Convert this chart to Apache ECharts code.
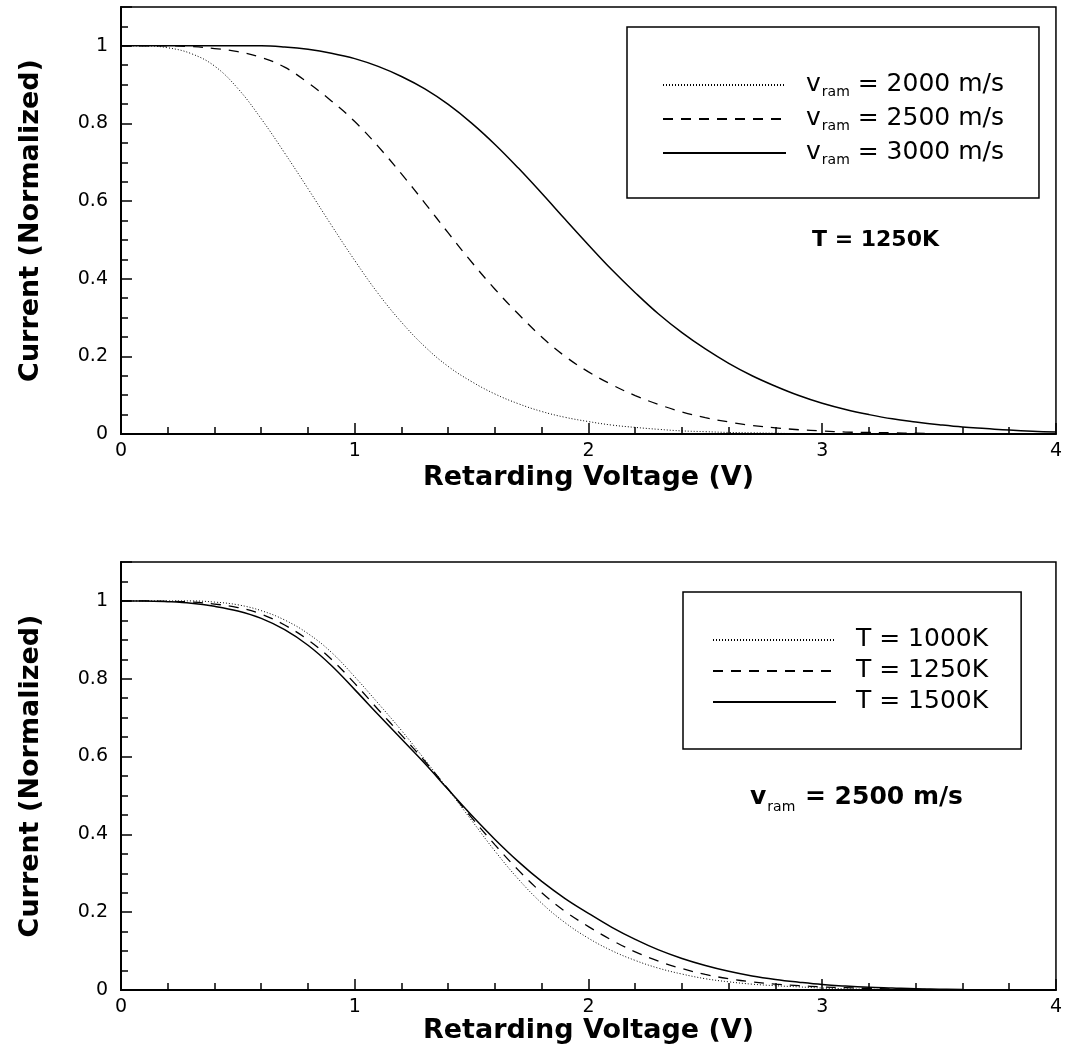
<!DOCTYPE html>
<html>
<head>
<meta charset="utf-8">
<script src="https://cdn.jsdelivr.net/npm/echarts@6/dist/echarts.min.js"></script>
<style>
html,body{margin:0;padding:0;background:#fff}
#main{width:1065px;height:1050px}
</style>
</head>
<body>
<div id="main"></div>
<script>
// retarding voltage (V)
var volts = [0,0.1,0.2,0.3,0.4,0.5,0.6,0.7,0.8,0.9,1.0,1.1,1.2,1.3,1.4,1.5,1.6,1.7,1.8,1.9,
  2.0,2.1,2.2,2.3,2.4,2.5,2.6,2.7,2.8,2.9,3.0,3.1,3.2,3.3,3.4,3.5,3.6,3.7,3.8,3.9,4.0]

// top panel, T = 1250K
var speeds = ['2000','2500','3000']
var vram2000 = [1,1,0.995,0.98,0.948,0.89,0.812,0.724,0.632,0.538,0.447,0.362,0.288,0.225,0.174,0.135,0.103,0.078,0.058,0.043,
  0.032,0.023,0.017,0.012,0.008,0.006,0.004,0.003,0.002,0.001,0.001,0,0,0,0,0,0,0,0,0,0]
var vram2500 = [1,1,1,0.998,0.993,0.985,0.97,0.945,0.905,0.858,0.805,0.741,0.67,0.595,0.518,0.443,0.373,0.309,0.25,0.2,
  0.16,0.127,0.099,0.076,0.057,0.042,0.031,0.022,0.016,0.011,0.008,0.005,0.004,0.003,0.002,0.001,0.001,0,0,0,0]
var vram3000 = [1,1,1,1,1,1,1,0.997,0.991,0.981,0.967,0.947,0.921,0.889,0.849,0.801,0.746,0.685,0.62,0.553,
  0.487,0.423,0.364,0.309,0.261,0.219,0.182,0.15,0.123,0.099,0.079,0.063,0.05,0.039,0.031,0.024,0.018,0.014,0.01,0.007,0.005]

// bottom panel, vram = 2500 m/s (curves stop at 3.6 V)
var temps = ['1000K','1250K','1500K']
var t1000 = [1,1,1,1,0.997,0.99,0.975,0.951,0.916,0.868,0.805,0.737,0.667,0.592,0.515,0.436,0.357,0.285,0.223,0.173,
  0.133,0.101,0.076,0.056,0.041,0.029,0.021,0.015,0.011,0.008,0.005,0.003,0.002,0.001,0.001,0,0]
var t1250 = [1,1,0.999,0.997,0.992,0.983,0.966,0.938,0.9,0.85,0.788,0.721,0.655,0.588,0.516,0.443,0.373,0.308,0.25,0.202,
  0.163,0.128,0.098,0.074,0.055,0.04,0.029,0.021,0.015,0.011,0.008,0.006,0.004,0.003,0.002,0.001,0.001]
var t1500 = [1,1,0.998,0.994,0.986,0.974,0.955,0.926,0.886,0.834,0.772,0.708,0.645,0.582,0.515,0.449,0.387,0.33,0.279,0.235,
  0.197,0.161,0.13,0.103,0.081,0.063,0.048,0.036,0.027,0.02,0.014,0.01,0.007,0.005,0.003,0.002,0.001]

var FONT = 'DejaVu Sans'
var DOTTED = [1, 2]
var DASHED = [10, 8]

function pairs(ys){
    return ys.map(function(y, i){ return [volts[i], y] })
}

function xAxisCfg(idx, gap){
    return {
        type:'value', gridIndex:idx, min:0, max:4, interval:1,
        axisLine:{lineStyle:{color:'#000', width:2}},
        axisTick:{inside:true, length:11, lineStyle:{color:'#000', width:1.5}},
        minorTick:{show:true, splitNumber:5, length:7, lineStyle:{color:'#000', width:1.5}},
        splitLine:{show:false},
        axisLabel:{fontFamily:FONT, fontSize:19, color:'#000', margin:8},
        name:'Retarding Voltage (V)', nameLocation:'middle', nameGap:gap,
        nameTextStyle:{fontFamily:FONT, fontWeight:'bold', fontSize:27, color:'#000'}
    }
}

function yMajor(idx){
    return {
        type:'value', gridIndex:idx, position:'left', min:0, max:1.1, interval:0.2,
        axisLine:{lineStyle:{color:'#000', width:2}},
        axisTick:{inside:true, length:11, lineStyle:{color:'#000', width:1.5}},
        splitLine:{show:false},
        axisLabel:{fontFamily:FONT, fontSize:19, color:'#000', margin:13,
            formatter:function(v){ return v > 1.05 ? '' : String(+v.toFixed(1)) }},
        name:'Current (Normalized)', nameLocation:'middle', nameGap:77, nameRotate:90,
        nameTextStyle:{fontFamily:FONT, fontWeight:'bold', fontSize:27, color:'#000'}
    }
}

// 0.05 minor ticks on a second, label-less axis
function yMinor(idx){
    return {
        type:'value', gridIndex:idx, position:'left', min:0, max:1.1, interval:0.05,
        axisLine:{show:false},
        axisTick:{inside:true, length:7, lineStyle:{color:'#000', width:1.5}},
        splitLine:{show:false},
        axisLabel:{show:false}
    }
}

function lineSeries(name, xi, yi, ys, dash, width){
    return {
        name:name, type:'line', xAxisIndex:xi, yAxisIndex:yi, data:pairs(ys),
        symbol:'none', smooth:0.4, silent:true,
        itemStyle:{color:'#000'},
        lineStyle:{color:'#000', width:width, type:dash}
    }
}

var legendRich = {
    v:{fontFamily:FONT, fontSize:25, lineHeight:26, verticalAlign:'top', color:'#000', padding:[0,0,0,15]},
    s:{fontFamily:FONT, fontSize:14, lineHeight:14, padding:[14,0,0,1], color:'#000'},
    t:{fontFamily:FONT, fontSize:25, lineHeight:26, verticalAlign:'top', color:'#000'}
}

function legendCfg(names, left, top, pad, gap, fmt){
    return {
        data:names, orient:'vertical', left:left, top:top, padding:pad, itemGap:gap,
        itemWidth:123, itemHeight:2, selectedMode:false,
        borderColor:'#000', borderWidth:1.5,
        itemStyle:{color:'rgba(0,0,0,0)', borderColor:'rgba(0,0,0,0)', borderWidth:0},
        formatter:fmt,
        textStyle:{rich:legendRich}
    }
}

var myChart = echarts.init(document.getElementById('main'))
var option = {
    backgroundColor:'#fff',
    animation:false,
    grid:[
        {left:121, top:7, width:937, height:427, show:true, borderColor:'#000', borderWidth:1.5},
        {left:121, top:562, width:937, height:428, show:true, borderColor:'#000', borderWidth:1.5}
    ],
    xAxis:[xAxisCfg(0, 30), xAxisCfg(1, 20)],
    yAxis:[yMajor(0), yMinor(0), yMajor(1), yMinor(1)],
    legend:[
        legendCfg(['v' + speeds[0], 'v' + speeds[1], 'v' + speeds[2]], 627, 27, [44, 35, 31, 35], 6,
            function(n){ return '{v|v}{s|ram}{t| = ' + n.slice(1) + ' m/s}' }),
        legendCfg(['T' + temps[0], 'T' + temps[1], 'T' + temps[2]], 683, 592, [35, 33, 35, 29], 6,
            function(n){ return '{v|T}{t| = ' + n.slice(1) + '}' })
    ],
    graphic:[
        {type:'text', left:812, top:229, style:{text:'T = 1250K', font:'bold 22px "DejaVu Sans"', fill:'#000'}},
        {type:'text', left:750, top:783, style:{
            text:'{v|v}{s|ram}{t| = 2500 m/s}',
            rich:{
                v:{font:'bold 25px "DejaVu Sans"', lineHeight:27, verticalAlign:'top', fill:'#000'},
                s:{font:'14px "DejaVu Sans"', lineHeight:14, padding:[17,1,0,1], fill:'#000'},
                t:{font:'bold 25px "DejaVu Sans"', lineHeight:27, verticalAlign:'top', fill:'#000'}
            }
        }}
    ],
    series:[
        lineSeries('v' + speeds[0], 0, 0, vram2000, DOTTED, 1),
        lineSeries('v' + speeds[1], 0, 0, vram2500, DASHED, 1.3),
        lineSeries('v' + speeds[2], 0, 0, vram3000, 'solid', 1.5),
        lineSeries('T' + temps[0], 1, 2, t1000, DOTTED, 1),
        lineSeries('T' + temps[1], 1, 2, t1250, DASHED, 1.3),
        lineSeries('T' + temps[2], 1, 2, t1500, 'solid', 1.5)
    ]
}
myChart.setOption(option)
</script>
</body>
</html>
